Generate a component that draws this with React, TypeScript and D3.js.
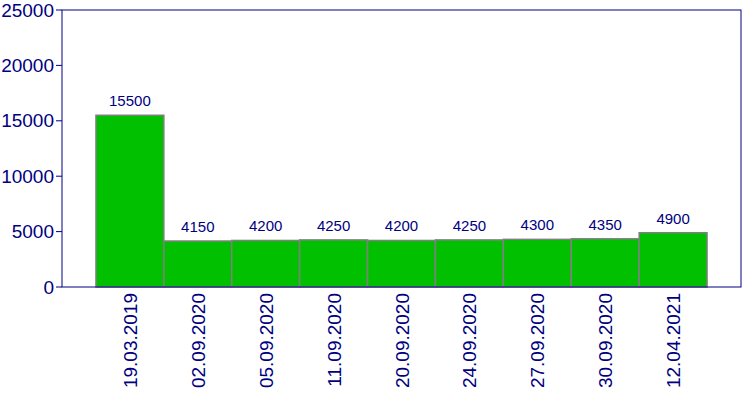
import * as d3 from 'd3';

const dates = [
  '19.03.2019', '02.09.2020', '05.09.2020', '11.09.2020', '20.09.2020',
  '24.09.2020', '27.09.2020', '30.09.2020', '12.04.2021',
];
const values = [15500, 4150, 4200, 4250, 4200, 4250, 4300, 4350, 4900];
const yTicks = [0, 5000, 10000, 15000, 20000, 25000];

const W = 750;
const H = 400;
const margin = { top: 10, right: 9, bottom: 113, left: 62 };
const navy = '#000080';

const App = () => {
  const x = d3.scaleBand<string>()
    .domain(dates)
    .range([margin.left, W - margin.right])
    .paddingInner(0)
    .paddingOuter(0.5);

  const y = d3.scaleLinear()
    .domain([0, 25000])
    .range([H - margin.bottom, margin.top]);

  const font = 'Arial, "Liberation Sans", sans-serif';
  const bottom = H - margin.bottom;

  return (
    <svg width={W} height={H} style={{ position: 'absolute', left: 0, top: 0 }}>
      <rect x={0} y={0} width={W} height={H} fill="#fff" />
      {dates.map((d, i) => (
        <g key={d}>
          <rect
            x={x(d)}
            y={y(values[i])}
            width={x.bandwidth()}
            height={bottom - y(values[i])}
            fill="#00c000"
            stroke="#808080"
            strokeWidth={1.5}
          />
          <text
            x={(x(d) || 0) + x.bandwidth() / 2}
            y={y(values[i]) - 9}
            textAnchor="middle"
            fontFamily={font}
            fontSize={15}
            fill={navy}
          >
            {values[i]}
          </text>
          <text
            transform={`translate(${(x(d) || 0) + x.bandwidth() / 2 + 7},${bottom + 6}) rotate(-90)`}
            textAnchor="end"
            fontFamily={font}
            fontSize={19}
            fill={navy}
          >
            {d}
          </text>
        </g>
      ))}
      <rect
        x={margin.left}
        y={margin.top}
        width={W - margin.left - margin.right}
        height={bottom - margin.top}
        fill="none"
        stroke={navy}
        strokeWidth={1}
      />
      {yTicks.map((t) => (
        <g key={t}>
          <line x1={margin.left - 6} x2={margin.left} y1={y(t)} y2={y(t)} stroke={navy} />
          <text
            x={margin.left - 8}
            y={y(t)}
            dy="0.35em"
            textAnchor="end"
            fontFamily={font}
            fontSize={19}
            fill={navy}
          >
            {t}
          </text>
        </g>
      ))}
    </svg>
  );
};

export default App;
